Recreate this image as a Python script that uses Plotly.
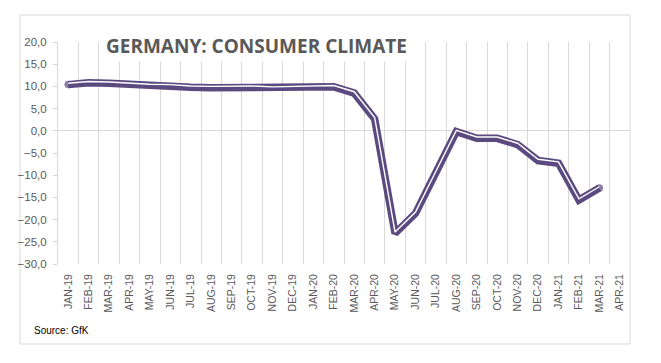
import plotly.graph_objects as go

months = ["JAN-19", "FEB-19", "MAR-19", "APR-19", "MAY-19", "JUN-19", "JUL-19",
          "AUG-19", "SEP-19", "OCT-19", "NOV-19", "DEC-19", "JAN-20", "FEB-20",
          "MAR-20", "APR-20", "MAY-20", "JUN-20", "JUL-20", "AUG-20", "SEP-20",
          "OCT-20", "NOV-20", "DEC-20", "JAN-21", "FEB-21", "MAR-21", "APR-21"]
consumer_climate = [10.4, 10.8, 10.7, 10.4, 10.2, 10.1, 9.8, 9.7, 9.7, 9.8, 9.6, 9.7,
                    9.7, 9.9, 8.5, 2.7, -23.1, -18.6, -9.4, -0.2, -1.7, -1.7, -3.1,
                    -6.7, -7.3, -15.6, -12.9]
y_ticks = [20, 15, 10, 5, 0, -5, -10, -15, -20, -25, -30]

PURPLE = "#5b4a80"
GRID = "#d9d9d9"
TXT = "#595959"

x_data = months[:len(consumer_climate)]
n = len(consumer_climate)
cap_sizes = [7.5 if i in (0, n - 1) else 0 for i in range(n)]

fig = go.Figure()
fig.add_trace(go.Scatter(
    x=x_data, y=consumer_climate, mode="lines+markers",
    line=dict(color=PURPLE, width=7.5),
    marker=dict(color=PURPLE, size=cap_sizes, line=dict(width=0)),
    hoverinfo="skip", showlegend=False))
fig.add_trace(go.Scatter(
    x=x_data, y=consumer_climate, mode="lines", yaxis="y2",
    line=dict(color="white", width=1.4),
    hoverinfo="skip", showlegend=False))

L, R, T, B = 58, 31, 42, 99
W, H = 661, 363
pw, ph = W - L - R, H - T - B

def px_x(x):
    return (x - L) / pw

def px_y(y):
    return (H - B - y) / ph

shift = 0.3
fig.update_layout(
    width=W, height=H,
    margin=dict(l=L, r=R, t=T, b=B, pad=0),
    paper_bgcolor="white", plot_bgcolor="white",
    separators=", ",
    font=dict(family="Liberation Sans, Arial, sans-serif", color=TXT),
    xaxis=dict(
        type="category", categoryorder="array", categoryarray=months,
        tickvals=months, ticktext=months,
        range=[-0.5, len(months) - 0.5],
        tickson="boundaries", showgrid=True, gridcolor=GRID, gridwidth=1,
        ticks="", tickangle=-90, tickfont=dict(size=10.5, color=TXT),
        showline=False, zeroline=False, ticklabelstandoff=7, automargin=False),
    yaxis=dict(
        range=[-30, 20], tickvals=y_ticks, tickformat=".1f",
        showgrid=False, zeroline=True, zerolinecolor=GRID, zerolinewidth=1,
        showline=True, linecolor=GRID, linewidth=1,
        ticks="outside", ticklen=4, tickcolor=GRID, automargin=False,
        ticklabelstandoff=4,
        tickfont=dict(size=11.5, color=TXT)),
    yaxis2=dict(range=[-30 - shift, 20 - shift], overlaying="y",
                visible=False, showgrid=False, zeroline=False),
    shapes=[dict(type="rect", xref="paper", yref="paper",
                 x0=px_x(20), x1=px_x(630), y0=px_y(344), y1=px_y(15),
                 line=dict(color=GRID, width=1), fillcolor="rgba(0,0,0,0)",
                 layer="below")],
    annotations=[
        dict(text="<b>GERMANY: CONSUMER CLIMATE</b>", xref="paper", yref="paper",
             x=px_x(256), y=px_y(46), xanchor="center", yanchor="middle",
             showarrow=False, bgcolor="white", borderpad=2,
             font=dict(family="Open Sans, sans-serif", size=19, color=TXT)),
        dict(text="Source: GfK", xref="paper", yref="paper",
             x=px_x(32), y=px_y(330), xanchor="left", yanchor="middle",
             showarrow=False,
             font=dict(family="Liberation Sans, Arial, sans-serif", size=10, color="#000000")),
    ],
)

fig.write_html("out.html", config={"displayModeBar": False},
               post_script="document.body.style.margin='0px';document.body.style.overflow='hidden';")
